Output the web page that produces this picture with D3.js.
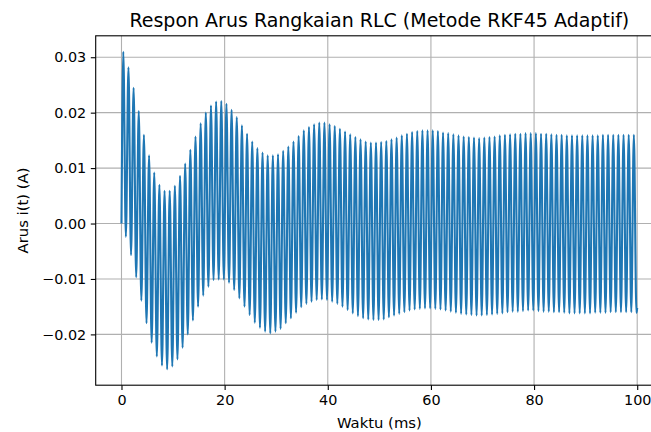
<!DOCTYPE html>
<html>
<head>
<meta charset="utf-8">
<script src="https://cdn.jsdelivr.net/npm/d3@7"></script>
<style>
  html, body { margin: 0; padding: 0; background: #fff; overflow: hidden; }
  svg { display: block; font-family: "DejaVu Sans", sans-serif; }
</style>
</head>
<body>
<svg id="chart" width="651" height="432"></svg>
<script>
// ---------- DATA ----------
const titleText = "Respon Arus Rangkaian RLC (Metode RKF45 Adaptif)";
const xLabelText = "Waktu (ms)";
const yLabelText = "Arus i(t) (A)";

const xTicks = [0, 20, 40, 60, 80, 100];
const yTicks = [-0.02, -0.01, 0.00, 0.01, 0.02, 0.03];

// start / end samples of the series (ms, A)
const edgeTime = [0, 100];
const edgeCurrent = [0.0, -0.0152];

// times of each positive peak (ms)
const peakTime = [0.35,1.35,2.35,3.35,4.35,5.35,6.35,7.35,8.35,9.35,
  10.35,11.35,12.35,13.35,14.35,15.35,16.35,17.35,18.35,19.35,
  20.35,21.35,22.35,23.35,24.35,25.35,26.35,27.35,28.35,29.35,
  30.35,31.35,32.35,33.35,34.35,35.35,36.35,37.35,38.35,39.35,
  40.35,41.35,42.35,43.35,44.35,45.35,46.35,47.35,48.35,49.35,
  50.35,51.35,52.35,53.35,54.35,55.35,56.35,57.35,58.35,59.35,
  60.35,61.35,62.35,63.35,64.35,65.35,66.35,67.35,68.35,69.35,
  70.35,71.35,72.35,73.35,74.35,75.35,76.35,77.35,78.35,79.35,
  80.35,81.35,82.35,83.35,84.35,85.35,86.35,87.35,88.35,89.35,
  90.35,91.35,92.35,93.35,94.35,95.35,96.35,97.35,98.35,99.35];

// current at each positive peak (A)
const peakCurrent = [0.0310,0.0282,0.0245,0.0203,0.0160,0.0123,0.0092,0.0070,0.0059,0.0059,
  0.0068,0.0086,0.0108,0.0133,0.0157,0.0181,0.0200,0.0213,0.0220,0.0221,
  0.0216,0.0205,0.0192,0.0177,0.0162,0.0148,0.0136,0.0128,0.0123,0.0123,
  0.0125,0.0131,0.0139,0.0148,0.0158,0.0168,0.0174,0.0179,0.0182,0.0182,
  0.0179,0.0176,0.0171,0.0166,0.0161,0.0156,0.0152,0.0148,0.0146,0.0146,
  0.0147,0.0149,0.0152,0.0155,0.0159,0.0162,0.0165,0.0167,0.0168,0.0168,
  0.0168,0.0167,0.0164,0.0163,0.0161,0.0159,0.0157,0.0156,0.0155,0.0154,
  0.0155,0.0156,0.0157,0.0159,0.0160,0.0161,0.0162,0.0162,0.0163,0.0163,
  0.0163,0.0162,0.0162,0.0161,0.0160,0.0160,0.0159,0.0159,0.0159,0.0159,
  0.0159,0.0159,0.0159,0.0160,0.0160,0.0160,0.0160,0.0160,0.0160,0.0160];

// times of each negative trough (ms)
const troughTime = [0.85,1.85,2.85,3.85,4.85,5.85,6.85,7.85,8.85,9.85,
  10.85,11.85,12.85,13.85,14.85,15.85,16.85,17.85,18.85,19.85,
  20.85,21.85,22.85,23.85,24.85,25.85,26.85,27.85,28.85,29.85,
  30.85,31.85,32.85,33.85,34.85,35.85,36.85,37.85,38.85,39.85,
  40.85,41.85,42.85,43.85,44.85,45.85,46.85,47.85,48.85,49.85,
  50.85,51.85,52.85,53.85,54.85,55.85,56.85,57.85,58.85,59.85,
  60.85,61.85,62.85,63.85,64.85,65.85,66.85,67.85,68.85,69.85,
  70.85,71.85,72.85,73.85,74.85,75.85,76.85,77.85,78.85,79.85,
  80.85,81.85,82.85,83.85,84.85,85.85,86.85,87.85,88.85,89.85,
  90.85,91.85,92.85,93.85,94.85,95.85,96.85,97.85,98.85,99.85];

// current at each negative trough (A)
const troughCurrent = [-0.0024,-0.0057,-0.0097,-0.0139,-0.0180,-0.0215,-0.0240,-0.0256,-0.0263,-0.0258,
  -0.0245,-0.0224,-0.0200,-0.0175,-0.0150,-0.0130,-0.0114,-0.0102,-0.0101,-0.0101,
  -0.0107,-0.0120,-0.0135,-0.0150,-0.0165,-0.0179,-0.0188,-0.0195,-0.0198,-0.0195,
  -0.0190,-0.0180,-0.0171,-0.0161,-0.0151,-0.0145,-0.0141,-0.0138,-0.0137,-0.0138,
  -0.0141,-0.0145,-0.0150,-0.0156,-0.0162,-0.0167,-0.0171,-0.0173,-0.0174,-0.0174,
  -0.0173,-0.0169,-0.0166,-0.0163,-0.0160,-0.0157,-0.0155,-0.0154,-0.0153,-0.0153,
  -0.0154,-0.0155,-0.0157,-0.0159,-0.0161,-0.0163,-0.0164,-0.0165,-0.0166,-0.0166,
  -0.0165,-0.0164,-0.0163,-0.0162,-0.0160,-0.0159,-0.0159,-0.0158,-0.0157,-0.0157,
  -0.0158,-0.0159,-0.0159,-0.0160,-0.0160,-0.0161,-0.0162,-0.0162,-0.0162,-0.0162,
  -0.0162,-0.0161,-0.0161,-0.0161,-0.0160,-0.0160,-0.0160,-0.0160,-0.0160,-0.0161];

// ---------- BUILD SERIES ----------
const series = [{ t: edgeTime[0], i: edgeCurrent[0] }];
for (let k = 0; k < peakTime.length; k++) {
  series.push({ t: peakTime[k], i: peakCurrent[k] });
  series.push({ t: troughTime[k], i: troughCurrent[k] });
}
series.push({ t: edgeTime[1], i: edgeCurrent[1] });

// ---------- LAYOUT ----------
const svg = d3.select("#chart");
const plot = { left: 95.7, top: 35.8, bottom: 385.2 };
const xMin = d3.min(series, d => d.t), xMax = d3.max(series, d => d.t);
const xPad = 0.05 * (xMax - xMin);
const x = d3.scaleLinear().domain([xMin - xPad, xMax + xPad]).range([plot.left, plot.left + 567.3]);
const yMin = d3.min(series, d => d.i), yMax = d3.max(series, d => d.i);
const yPad = 0.05 * (yMax - yMin);
const y = d3.scaleLinear().domain([yMin - yPad, yMax + yPad]).range([plot.bottom, plot.top]);
const plotRight = x.range()[1];

const tickFont = 14.4;
const labelFont = 14.8;
const titleFont = 19;
const gridColor = "#b0b0b0";

// grid
const grid = svg.append("g");
grid.selectAll("line.gx").data(xTicks).join("line")
  .attr("x1", d => x(d)).attr("x2", d => x(d))
  .attr("y1", plot.top).attr("y2", plot.bottom)
  .attr("stroke", gridColor).attr("stroke-width", 1.1);
grid.selectAll("line.gy").data(yTicks).join("line")
  .attr("x1", plot.left).attr("x2", plotRight)
  .attr("y1", d => y(d)).attr("y2", d => y(d))
  .attr("stroke", gridColor).attr("stroke-width", 1.1);

// data line
const line = d3.line().x(d => x(d.t)).y(d => y(d.i)).curve(d3.curveMonotoneX);
svg.append("path").datum(series)
  .attr("d", line)
  .attr("fill", "none")
  .attr("stroke", "#1f77b4")
  .attr("stroke-width", 2.1)
  .attr("stroke-linejoin", "round");

// axes
const fmtY = d3.format(".2f");
const xAxis = d3.axisBottom(x).tickValues(xTicks).tickFormat(d3.format("d")).tickSize(4.9).tickPadding(4.6);
const yAxis = d3.axisLeft(y).tickValues(yTicks).tickFormat(fmtY).tickSize(4.9).tickPadding(4.6);

const gx = svg.append("g").attr("transform", `translate(0,${plot.bottom})`).call(xAxis);
const gy = svg.append("g").attr("transform", `translate(${plot.left},0)`).call(yAxis);
[gx, gy].forEach(g => {
  g.select(".domain").remove();
  g.selectAll(".tick line").attr("stroke", "#000").attr("stroke-width", 1.1);
  g.selectAll(".tick text").attr("fill", "#000")
    .style("font-family", "'DejaVu Sans', sans-serif").style("font-size", tickFont + "px");
});

// spines
svg.append("rect")
  .attr("x", plot.left).attr("y", plot.top)
  .attr("width", plotRight - plot.left).attr("height", plot.bottom - plot.top)
  .attr("fill", "none").attr("stroke", "#000").attr("stroke-width", 1.1);

// title and labels
svg.append("text")
  .attr("x", (plot.left + plotRight) / 2).attr("y", 26.5)
  .attr("text-anchor", "middle")
  .style("font-size", titleFont + "px").attr("fill", "#000")
  .text(titleText);

svg.append("text")
  .attr("x", (plot.left + plotRight) / 2).attr("y", 428)
  .attr("text-anchor", "middle")
  .style("font-size", labelFont + "px").attr("fill", "#000")
  .text(xLabelText);

svg.append("text")
  .attr("transform", `translate(27.5,${(plot.top + plot.bottom) / 2}) rotate(-90)`)
  .attr("text-anchor", "middle")
  .style("font-size", labelFont + "px").attr("fill", "#000")
  .text(yLabelText);
</script>
</body>
</html>
